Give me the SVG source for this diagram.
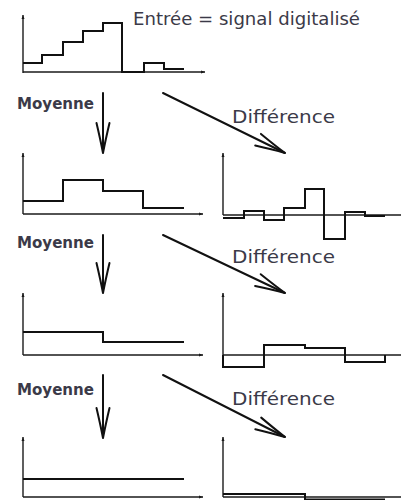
<svg xmlns="http://www.w3.org/2000/svg" width="401" height="500" viewBox="0 0 401 500">
  <style>
    .axis { stroke: #1a1a1a; stroke-width: 1.4; fill: none; }
    .sig { stroke: #111; stroke-width: 2; fill: none; stroke-linejoin: miter; }
    .arrow { stroke: #111; stroke-width: 2; fill: none; stroke-linecap: round; }
    .lbl { font-family: "DejaVu Sans", "Liberation Sans", sans-serif; fill: #3b3a48; }
  </style>
  <defs>
    <!-- open hand-drawn style arrowhead for the process arrows -->
    <marker id="open-head" markerUnits="userSpaceOnUse" markerWidth="36" markerHeight="20" viewBox="-32 -10 36 20" refX="0" refY="0" orient="auto">
      <path d="M -30,-6.5 Q -13,-2.5 0,0 Q -13,2.5 -30,6.5" fill="none" stroke="#111" stroke-width="2" stroke-linecap="round"/>
    </marker>
    <!-- tiny tip on the ends of the axes -->
    <marker id="axis-tip" markerUnits="userSpaceOnUse" markerWidth="6" markerHeight="6" viewBox="-5 -3 6 6" refX="0" refY="0" orient="auto">
      <path d="M -4,-1.5 L 0,0 L -4,1.5 Z" fill="#1a1a1a"/>
    </marker>
  </defs>

  <rect width="401" height="500" fill="#fff"/>

  <!-- input signal -->
  <g id="input">
    <path class="axis" d="M 23,73 L 23,15" marker-end="url(#axis-tip)"/>
    <path class="axis" d="M 23,72 L 205,72" marker-end="url(#axis-tip)"/>
    <path class="sig" d="M 23,63 H 42 V 55 H 63 V 42 H 83 V 31 H 103 V 23 H 122 V 72 H 144 V 63 H 164 V 69 H 184"/>
    <text class="lbl" x="133" y="25" font-size="17" textLength="227" lengthAdjust="spacingAndGlyphs">Entrée = signal digitalisé</text>
  </g>

  <!-- level 1 -->
  <g id="mean1">
    <path class="axis" d="M 23,214 L 23,153" marker-end="url(#axis-tip)"/>
    <path class="axis" d="M 23,214 L 203,214" marker-end="url(#axis-tip)"/>
    <path class="sig" d="M 23,201 H 63 V 180 H 103 V 191 H 143 V 208 H 184"/>
  </g>
  <g id="diff1">
    <path class="axis" d="M 223,215 L 223,153" marker-end="url(#axis-tip)"/>
    <path class="axis" d="M 223,215 L 401,215"/>
    <path class="sig" d="M 223,218 H 244 V 211 H 264 V 220 H 284 V 208 H 305 V 189 H 324 V 239 H 345 V 212 H 365 V 216 H 385"/>
  </g>

  <!-- level 2 -->
  <g id="mean2">
    <path class="axis" d="M 23,355 L 23,293" marker-end="url(#axis-tip)"/>
    <path class="axis" d="M 23,355 L 203,355" marker-end="url(#axis-tip)"/>
    <path class="sig" d="M 23,332 H 103 V 342 H 184"/>
  </g>
  <g id="diff2">
    <path class="axis" d="M 223,355 L 223,293" marker-end="url(#axis-tip)"/>
    <path class="axis" d="M 223,355 L 401,355"/>
    <path class="sig" d="M 223,355 V 367 H 264 V 345 H 305 V 348 H 345 V 362 H 385 V 355"/>
  </g>

  <!-- level 3 -->
  <g id="mean3">
    <path class="axis" d="M 23,497 L 23,437" marker-end="url(#axis-tip)"/>
    <path class="axis" d="M 23,497 L 203,497" marker-end="url(#axis-tip)"/>
    <path class="sig" d="M 23,479 H 184"/>
  </g>
  <g id="diff3">
    <path class="axis" d="M 223,497 L 223,437" marker-end="url(#axis-tip)"/>
    <path class="axis" d="M 223,497 L 401,497"/>
    <path class="sig" d="M 223,494 H 305 V 500 M 305,499.5 H 385"/>
  </g>

  <!-- labels of the operations -->
  <g id="labels">
    <text class="lbl" x="17" y="109" font-size="15" font-weight="bold" textLength="77" lengthAdjust="spacingAndGlyphs">Moyenne</text>
    <text class="lbl" x="17" y="248" font-size="15" font-weight="bold" textLength="77" lengthAdjust="spacingAndGlyphs">Moyenne</text>
    <text class="lbl" x="17" y="395" font-size="15" font-weight="bold" textLength="77" lengthAdjust="spacingAndGlyphs">Moyenne</text>
    <text class="lbl" x="232" y="123" font-size="17" textLength="103" lengthAdjust="spacingAndGlyphs">Différence</text>
    <text class="lbl" x="232" y="263" font-size="17" textLength="103" lengthAdjust="spacingAndGlyphs">Différence</text>
    <text class="lbl" x="232" y="405" font-size="17" textLength="103" lengthAdjust="spacingAndGlyphs">Différence</text>
  </g>

  <!-- process arrows -->
  <g id="connectors">
    <path class="arrow" d="M 103,93 L 103,153" marker-end="url(#open-head)"/>
    <path class="arrow" d="M 163,93 L 285,153" marker-end="url(#open-head)"/>
    <path class="arrow" d="M 103,235 L 103,293" marker-end="url(#open-head)"/>
    <path class="arrow" d="M 163,235 L 285,293" marker-end="url(#open-head)"/>
    <path class="arrow" d="M 103,375 L 103,438" marker-end="url(#open-head)"/>
    <path class="arrow" d="M 163,375 L 285,437" marker-end="url(#open-head)"/>
  </g>
</svg>
